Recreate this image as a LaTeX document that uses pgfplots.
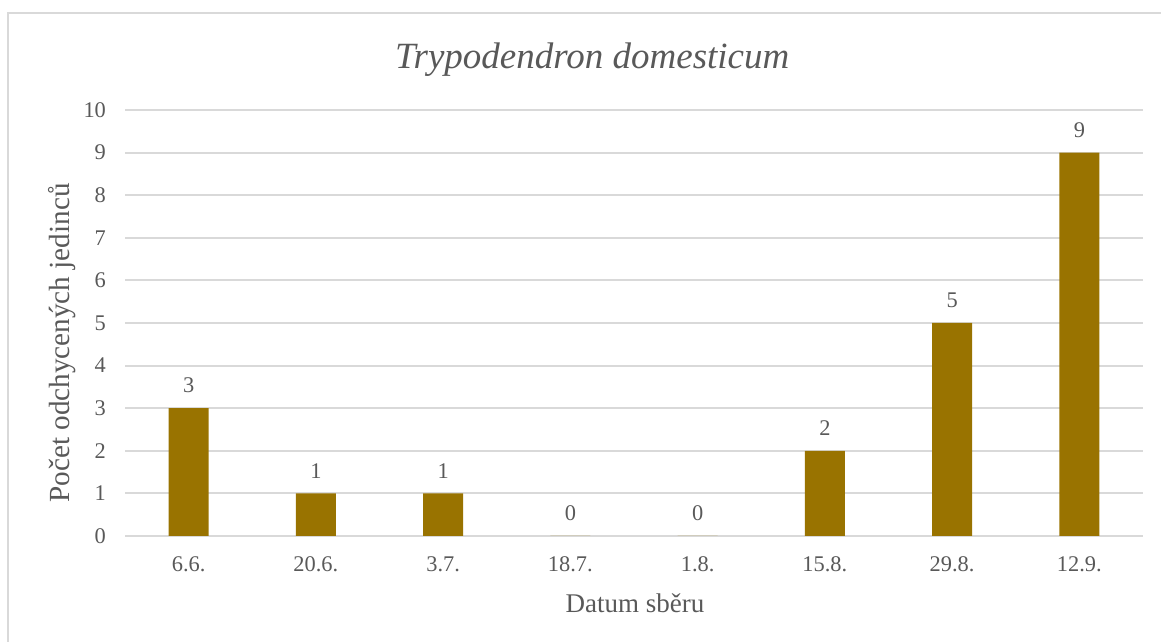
\documentclass[border=0pt]{standalone}
\usepackage{fontspec}
\setmainfont{Liberation Serif}
\usepackage{pgfplots}
\pgfplotsset{compat=1.18}
\definecolor{barcol}{HTML}{997300}
\definecolor{txt}{HTML}{595959}
\definecolor{gridc}{HTML}{D9D9D9}
\definecolor{framec}{HTML}{D9D9D9}
\begin{document}
\begin{tikzpicture}
\useasboundingbox (0,0) rectangle (580.5pt,321pt);
\draw[framec,line width=1pt] (4pt,-10pt) |- (600pt,314.5pt);
\begin{axis}[
  at={(62.5pt,53pt)},anchor=south west,
  scale only axis,width=509pt,height=213pt,
  ybar,bar width=20pt,
  xmin=-0.5,xmax=7.5,ymin=0,ymax=10,
  ytick={0,1,...,10},
  xtick=data,
  xticklabels={6.6.,20.6.,3.7.,18.7.,1.8.,15.8.,29.8.,12.9.},
  axis line style={draw=none},
  major tick length=0pt,
  ymajorgrids,grid style={gridc,line width=1pt},
  /pgf/number format/assume math mode=true,
  tick label style={font=\fontsize{11.2}{13}\selectfont,text=txt},
  yticklabel style={xshift=-6pt},
  xticklabel style={yshift=-7pt},
  nodes near coords,
  every node near coord/.append style={font=\fontsize{11.2}{13}\selectfont,text=txt,yshift=4pt},
  title={\itshape Trypodendron domesticum},
  title style={at={(rel axis cs:0.459,1.089)},anchor=center,font=\fontsize{18.5}{22}\selectfont,text=txt},
  xlabel={Datum sběru},
  xlabel style={at={(rel axis cs:0.501,-0.157)},anchor=center,font=\fontsize{13.5}{16}\selectfont,text=txt},
  ylabel={Počet odchycených jedinců},
  ylabel style={at={(rel axis cs:-0.0619,0.453)},anchor=center,rotate=0,font=\fontsize{14.6}{17}\selectfont,text=txt},
]
\addplot[fill=barcol,draw=none] coordinates {(0,3) (1,1) (2,1) (3,0) (4,0) (5,2) (6,5) (7,9)};
\end{axis}
\end{tikzpicture}
\end{document}
